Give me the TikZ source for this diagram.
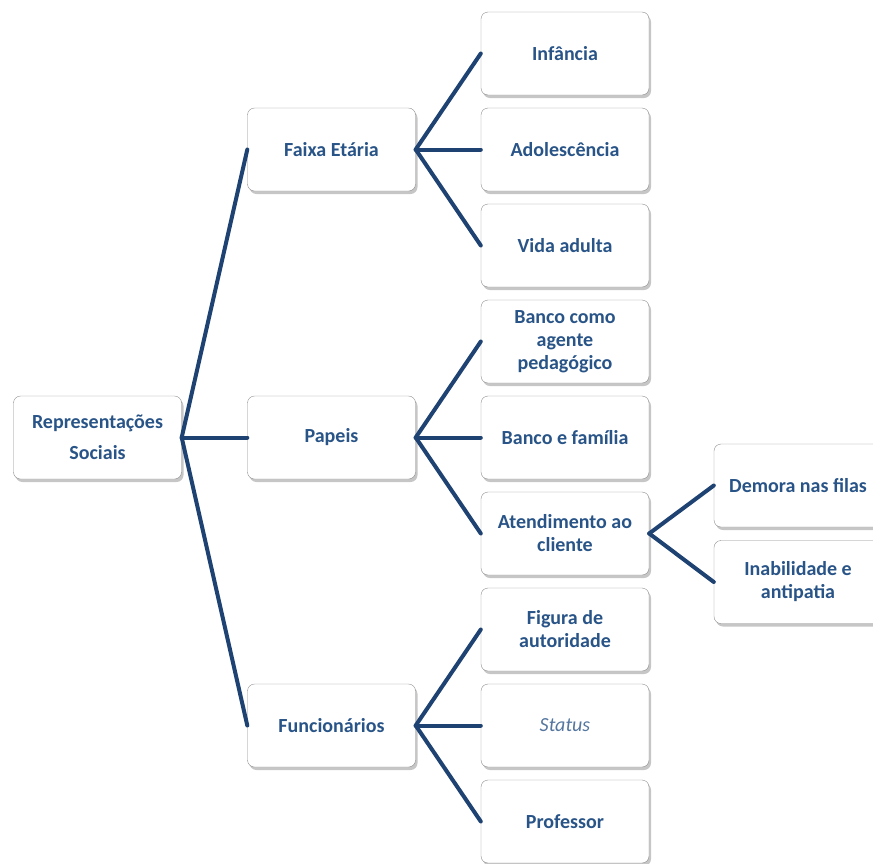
\documentclass[tikz,border=0pt]{standalone}
\usepackage{fontspec}
\setmainfont{Carlito}
\usetikzlibrary{shadows}

\definecolor{box text}{HTML}{295487}
\definecolor{link line}{HTML}{1E4272}
\colorlet{box edge}{black!45}
\tikzset{box/.style={draw=box edge, fill=white, rounded corners=7pt,
        minimum width=168pt, minimum height=83pt, align=center,
        text=box text, font=\bfseries\fontsize{20}{23}\selectfont,
        drop shadow={shadow xshift=2pt, shadow yshift=-3pt, opacity=0.45}},
    link/.style={draw=link line, line width=4pt, line cap=round}}

\begin{document}
\begin{tikzpicture}[x=1pt, y=-1pt]
    \useasboundingbox (0,0) rectangle (873,863);
    % root and first level
    \node[box] (rep) at (97.5,437.5) {Representações\\[8pt]Sociais};
    \node[box] (faixa) at (331.5,149.5) {Faixa Etária};
    \node[box] (papeis) at (331.5,437.5) {Papeis};
    \node[box] (func) at (331.5,725.5) {Funcionários};
    % second level
    \node[box] (inf) at (565,53.5) {Infância};
    \node[box] (adol) at (565,149.5) {Adolescência};
    \node[box] (vida) at (565,245.5) {Vida adulta};
    \node[box] (agente) at (565,341.5) {Banco como\\agente\\pedagógico};
    \node[box] (familia) at (565,437.5) {Banco e família};
    \node[box] (atend) at (565,533.5) {Atendimento ao\\cliente};
    \node[box] (figura) at (565,629.5) {Figura de\\autoridade};
    \node[box, font=\itshape\fontsize{20}{23}\selectfont, text=box text!80] (status) at (565,725.5) {Status};
    \node[box] (prof) at (565,821.5) {Professor};
    % third level
    \node[box] (demora) at (798,485.5) {Demora nas filas};
    \node[box] (inab) at (798,582) {Inabilidade e\\antipatia};

    \foreach \a/\b in {rep/faixa, rep/papeis, rep/func,
                       faixa/inf, faixa/adol, faixa/vida,
                       papeis/agente, papeis/familia, papeis/atend,
                       func/figura, func/status, func/prof,
                       atend/demora, atend/inab}
        \draw[link] (\a.east) -- (\b.west);
\end{tikzpicture}
\end{document}
